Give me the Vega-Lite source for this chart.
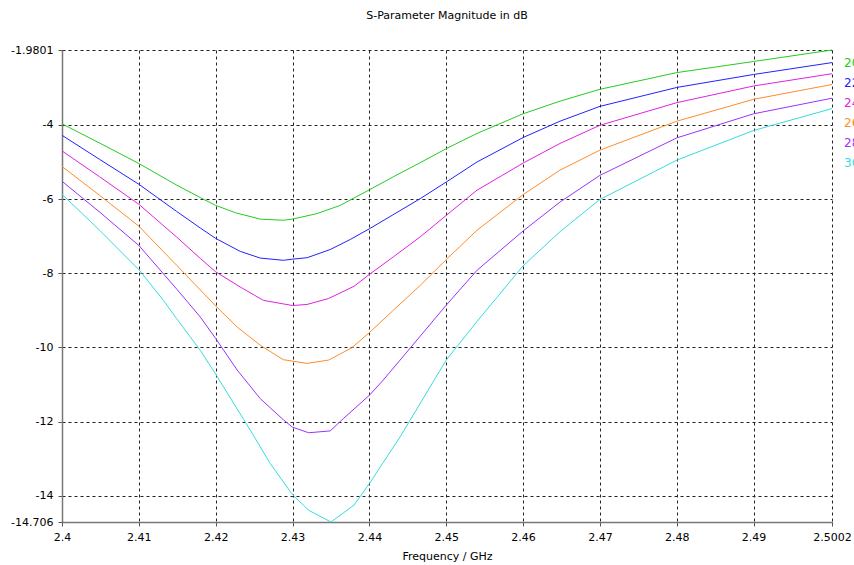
{
  "$schema": "https://vega.github.io/schema/vega-lite/v6.json",
  "autosize": "none",
  "width": 770,
  "height": 472,
  "padding": {"left": 62, "top": 50, "right": 22, "bottom": 43},
  "background": "white",
  "config": {
    "view": {"stroke": null},
    "font": "DejaVu Sans",
    "axis": {
      "labelFont": "DejaVu Sans",
      "titleFont": "DejaVu Sans",
      "labelFontSize": 11,
      "titleFontSize": 11,
      "titleFontWeight": "normal",
      "labelColor": "#000",
      "titleColor": "#000",
      "gridColor": "#222",
      "gridDash": [3, 3],
      "gridWidth": 1,
      "domainColor": "#777",
      "domainWidth": 1.5,
      "tickColor": "#555",
      "tickSize": 4,
      "labelPadding": 5
    }
  },
  "title": {
    "text": "S-Parameter Magnitude in dB",
    "font": "DejaVu Sans",
    "fontSize": 11,
    "fontWeight": "normal",
    "color": "#000",
    "anchor": "middle",
    "offset": 23
  },
  "data": {
    "values": [
      {"f": 2.4, "s": "20", "v": -3.97},
      {"f": 2.4049, "s": "20", "v": -4.49},
      {"f": 2.41, "s": "20", "v": -5.04},
      {"f": 2.4149, "s": "20", "v": -5.62},
      {"f": 2.418, "s": "20", "v": -5.96},
      {"f": 2.42, "s": "20", "v": -6.17},
      {"f": 2.4226, "s": "20", "v": -6.37},
      {"f": 2.4258, "s": "20", "v": -6.54},
      {"f": 2.4288, "s": "20", "v": -6.57},
      {"f": 2.43, "s": "20", "v": -6.54},
      {"f": 2.4332, "s": "20", "v": -6.39},
      {"f": 2.4362, "s": "20", "v": -6.17},
      {"f": 2.44, "s": "20", "v": -5.75},
      {"f": 2.4431, "s": "20", "v": -5.40},
      {"f": 2.4466, "s": "20", "v": -5.02},
      {"f": 2.45, "s": "20", "v": -4.64},
      {"f": 2.454, "s": "20", "v": -4.23},
      {"f": 2.46, "s": "20", "v": -3.70},
      {"f": 2.4648, "s": "20", "v": -3.36},
      {"f": 2.47, "s": "20", "v": -3.04},
      {"f": 2.48, "s": "20", "v": -2.59},
      {"f": 2.49, "s": "20", "v": -2.29},
      {"f": 2.5002, "s": "20", "v": -1.9801},

      {"f": 2.4, "s": "22", "v": -4.28},
      {"f": 2.4049, "s": "22", "v": -4.93},
      {"f": 2.41, "s": "22", "v": -5.60},
      {"f": 2.4149, "s": "22", "v": -6.33},
      {"f": 2.418, "s": "22", "v": -6.78},
      {"f": 2.42, "s": "22", "v": -7.06},
      {"f": 2.4232, "s": "22", "v": -7.41},
      {"f": 2.4258, "s": "22", "v": -7.59},
      {"f": 2.4288, "s": "22", "v": -7.65},
      {"f": 2.43, "s": "22", "v": -7.62},
      {"f": 2.4319, "s": "22", "v": -7.58},
      {"f": 2.4349, "s": "22", "v": -7.36},
      {"f": 2.4375, "s": "22", "v": -7.09},
      {"f": 2.44, "s": "22", "v": -6.80},
      {"f": 2.4431, "s": "22", "v": -6.42},
      {"f": 2.4466, "s": "22", "v": -5.99},
      {"f": 2.45, "s": "22", "v": -5.54},
      {"f": 2.454, "s": "22", "v": -5.00},
      {"f": 2.46, "s": "22", "v": -4.34},
      {"f": 2.4648, "s": "22", "v": -3.90},
      {"f": 2.47, "s": "22", "v": -3.50},
      {"f": 2.48, "s": "22", "v": -2.99},
      {"f": 2.49, "s": "22", "v": -2.64},
      {"f": 2.5002, "s": "22", "v": -2.32},

      {"f": 2.4, "s": "24", "v": -4.70},
      {"f": 2.4049, "s": "24", "v": -5.40},
      {"f": 2.41, "s": "24", "v": -6.14},
      {"f": 2.4149, "s": "24", "v": -7.02},
      {"f": 2.418, "s": "24", "v": -7.60},
      {"f": 2.42, "s": "24", "v": -7.96},
      {"f": 2.4232, "s": "24", "v": -8.37},
      {"f": 2.4262, "s": "24", "v": -8.73},
      {"f": 2.43, "s": "24", "v": -8.87},
      {"f": 2.4319, "s": "24", "v": -8.84},
      {"f": 2.4347, "s": "24", "v": -8.68},
      {"f": 2.438, "s": "24", "v": -8.35},
      {"f": 2.44, "s": "24", "v": -8.03},
      {"f": 2.4431, "s": "24", "v": -7.56},
      {"f": 2.4466, "s": "24", "v": -7.02},
      {"f": 2.45, "s": "24", "v": -6.44},
      {"f": 2.454, "s": "24", "v": -5.76},
      {"f": 2.46, "s": "24", "v": -5.03},
      {"f": 2.4648, "s": "24", "v": -4.50},
      {"f": 2.47, "s": "24", "v": -4.01},
      {"f": 2.48, "s": "24", "v": -3.40},
      {"f": 2.49, "s": "24", "v": -2.95},
      {"f": 2.5002, "s": "24", "v": -2.62},

      {"f": 2.4, "s": "26", "v": -5.12},
      {"f": 2.4049, "s": "26", "v": -5.90},
      {"f": 2.41, "s": "26", "v": -6.73},
      {"f": 2.4149, "s": "26", "v": -7.78},
      {"f": 2.418, "s": "26", "v": -8.45},
      {"f": 2.42, "s": "26", "v": -8.88},
      {"f": 2.4228, "s": "26", "v": -9.45},
      {"f": 2.4258, "s": "26", "v": -9.94},
      {"f": 2.4288, "s": "26", "v": -10.33},
      {"f": 2.4319, "s": "26", "v": -10.43},
      {"f": 2.4347, "s": "26", "v": -10.34},
      {"f": 2.4377, "s": "26", "v": -10.01},
      {"f": 2.44, "s": "26", "v": -9.60},
      {"f": 2.4431, "s": "26", "v": -9.00},
      {"f": 2.4466, "s": "26", "v": -8.33},
      {"f": 2.45, "s": "26", "v": -7.63},
      {"f": 2.454, "s": "26", "v": -6.84},
      {"f": 2.46, "s": "26", "v": -5.88},
      {"f": 2.4648, "s": "26", "v": -5.22},
      {"f": 2.47, "s": "26", "v": -4.68},
      {"f": 2.48, "s": "26", "v": -3.90},
      {"f": 2.49, "s": "26", "v": -3.31},
      {"f": 2.5002, "s": "26", "v": -2.91},

      {"f": 2.4, "s": "28", "v": -5.52},
      {"f": 2.4049, "s": "28", "v": -6.35},
      {"f": 2.41, "s": "28", "v": -7.25},
      {"f": 2.4149, "s": "28", "v": -8.42},
      {"f": 2.418, "s": "28", "v": -9.18},
      {"f": 2.42, "s": "28", "v": -9.76},
      {"f": 2.4228, "s": "28", "v": -10.61},
      {"f": 2.4258, "s": "28", "v": -11.38},
      {"f": 2.4288, "s": "28", "v": -11.95},
      {"f": 2.43, "s": "28", "v": -12.15},
      {"f": 2.4321, "s": "28", "v": -12.30},
      {"f": 2.4349, "s": "28", "v": -12.25},
      {"f": 2.4366, "s": "28", "v": -11.92},
      {"f": 2.44, "s": "28", "v": -11.29},
      {"f": 2.4418, "s": "28", "v": -10.88},
      {"f": 2.444, "s": "28", "v": -10.34},
      {"f": 2.45, "s": "28", "v": -8.86},
      {"f": 2.454, "s": "28", "v": -7.92},
      {"f": 2.46, "s": "28", "v": -6.86},
      {"f": 2.4648, "s": "28", "v": -6.08},
      {"f": 2.47, "s": "28", "v": -5.36},
      {"f": 2.48, "s": "28", "v": -4.35},
      {"f": 2.49, "s": "28", "v": -3.70},
      {"f": 2.5002, "s": "28", "v": -3.28},

      {"f": 2.4, "s": "30", "v": -5.87},
      {"f": 2.4049, "s": "30", "v": -6.84},
      {"f": 2.41, "s": "30", "v": -7.90},
      {"f": 2.4132, "s": "30", "v": -8.73},
      {"f": 2.4149, "s": "30", "v": -9.22},
      {"f": 2.418, "s": "30", "v": -10.08},
      {"f": 2.42, "s": "30", "v": -10.72},
      {"f": 2.4245, "s": "30", "v": -12.23},
      {"f": 2.4271, "s": "30", "v": -13.13},
      {"f": 2.43, "s": "30", "v": -13.97},
      {"f": 2.4321, "s": "30", "v": -14.39},
      {"f": 2.435, "s": "30", "v": -14.706},
      {"f": 2.438, "s": "30", "v": -14.25},
      {"f": 2.44, "s": "30", "v": -13.67},
      {"f": 2.444, "s": "30", "v": -12.41},
      {"f": 2.45, "s": "30", "v": -10.34},
      {"f": 2.454, "s": "30", "v": -9.30},
      {"f": 2.46, "s": "30", "v": -7.80},
      {"f": 2.4648, "s": "30", "v": -6.88},
      {"f": 2.47, "s": "30", "v": -6.01},
      {"f": 2.48, "s": "30", "v": -4.95},
      {"f": 2.49, "s": "30", "v": -4.15},
      {"f": 2.5002, "s": "30", "v": -3.56}
    ]
  },
  "mark": {"type": "line", "strokeWidth": 1, "interpolate": "linear"},
  "encoding": {
    "x": {
      "field": "f",
      "type": "quantitative",
      "scale": {"domain": [2.4, 2.5002], "nice": false, "zero": false},
      "axis": {
        "title": "Frequency / GHz",
        "values": [2.4, 2.41, 2.42, 2.43, 2.44, 2.45, 2.46, 2.47, 2.48, 2.49, 2.5002],
        "labelExpr": "'' + datum.value",
        "titlePadding": 8,
        "labelFlush": false,
        "labelOverlap": false
      }
    },
    "y": {
      "field": "v",
      "type": "quantitative",
      "scale": {"domain": [-14.706, -1.9801], "nice": false, "zero": false},
      "axis": {
        "title": null,
        "values": [-1.9801, -4, -6, -8, -10, -12, -14, -14.706],
        "labelExpr": "'' + datum.value",
        "labelFlush": false,
        "labelOverlap": false
      }
    },
    "color": {
      "field": "s",
      "type": "nominal",
      "scale": {
        "domain": ["20", "22", "24", "26", "28", "30"],
        "range": ["#22cc22", "#2222ff", "#e022e0", "#ff8c2a", "#9933ff", "#33dddd"]
      },
      "legend": {
        "orient": "none",
        "legendX": 770,
        "legendY": 7,
        "title": null,
        "symbolSize": 0,
        "symbolStrokeWidth": 0,
        "symbolOpacity": 0,
        "labelOffset": 0,
        "labelFont": "DejaVu Sans",
        "labelFontSize": 12,
        "rowPadding": 8,
        "padding": 0,
        "encode": {
          "labels": {"update": {"fill": {"scale": "color", "field": "value"}}}
        }
      }
    }
  }
}
